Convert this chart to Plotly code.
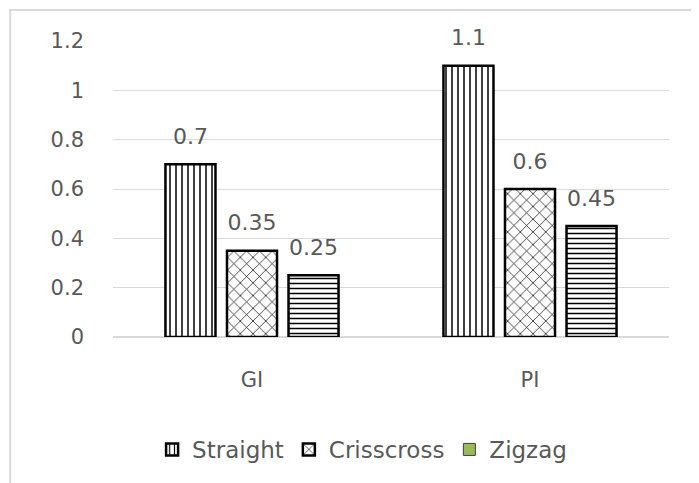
import plotly.graph_objects as go

categories = ["GI", "PI"]
series_names = ["Straight", "Crisscross", "Zigzag"]
straight = [0.7, 1.1]
crisscross = [0.35, 0.6]
zigzag = [0.25, 0.45]
y_ticks = [0, 0.2, 0.4, 0.6, 0.8, 1.0, 1.2]

font = "DejaVu Sans"
gray = "#595959"

patterns = [
    dict(shape="|", fgcolor="black", bgcolor="white", size=6, solidity=0.25, fillmode="replace"),
    dict(shape="x", fgcolor="black", bgcolor="white", size=9, solidity=0.15, fillmode="replace"),
    dict(shape="-", fgcolor="black", bgcolor="white", size=5, solidity=0.3, fillmode="replace"),
]
values = [straight, crisscross, zigzag]

fig = go.Figure()
for i, (name, vals) in enumerate(zip(series_names, values)):
    fig.add_trace(go.Bar(
        x=categories, y=vals, name=name,
        marker=dict(color="white", pattern=patterns[i], line=dict(color="black", width=2.5)),
        text=[f"{v:g}" for v in vals],
        texttemplate="<span style='font-size:22px'>%{text}</span><br> ",
        textposition="outside",
        textfont=dict(family=font, size=11, color=gray),
        constraintext="none",
        cliponaxis=False,
        showlegend=(i < 2),
    ))
# legend entry for Zigzag shown as a solid green swatch (on a hidden overlay axis)
fig.add_trace(go.Bar(
    x=[None], y=[None], name="Zigzag", xaxis="x2",
    marker=dict(color="#9BBB59", line=dict(color="#404040", width=1)),
    showlegend=True,
))

fig.update_layout(
    width=699, height=483,
    margin=dict(l=105, r=38, t=33, b=154),
    paper_bgcolor="white", plot_bgcolor="white",
    barmode="group", bargap=0.336, bargroupgap=0.187,
    legend=dict(orientation="h", x=0.448, xanchor="center", y=-0.38, yanchor="middle",
                font=dict(family=font, size=23, color=gray), itemclick=False),
    xaxis=dict(showline=False, tickfont=dict(family=font, size=21, color=gray),
               ticklabelstandoff=28),
    xaxis2=dict(overlaying="x", visible=False),
    shapes=[dict(type="rect", xref="paper", yref="paper", x0=-0.185, x1=1.3, y0=-0.7, y1=1.105,
                 line=dict(color="#d9d9d9", width=2), layer="below")],
)
fig.update_yaxes(range=[0, 1.2], tickvals=y_ticks, ticktext=[f"{v:g}" for v in y_ticks],
                 showgrid=True, gridcolor="#d9d9d9", gridwidth=1, zeroline=True,
                 zerolinecolor="#d9d9d9", showline=False,
                 tickfont=dict(family=font, size=21, color=gray), ticklabelstandoff=28)

fig.write_html("out.html")
